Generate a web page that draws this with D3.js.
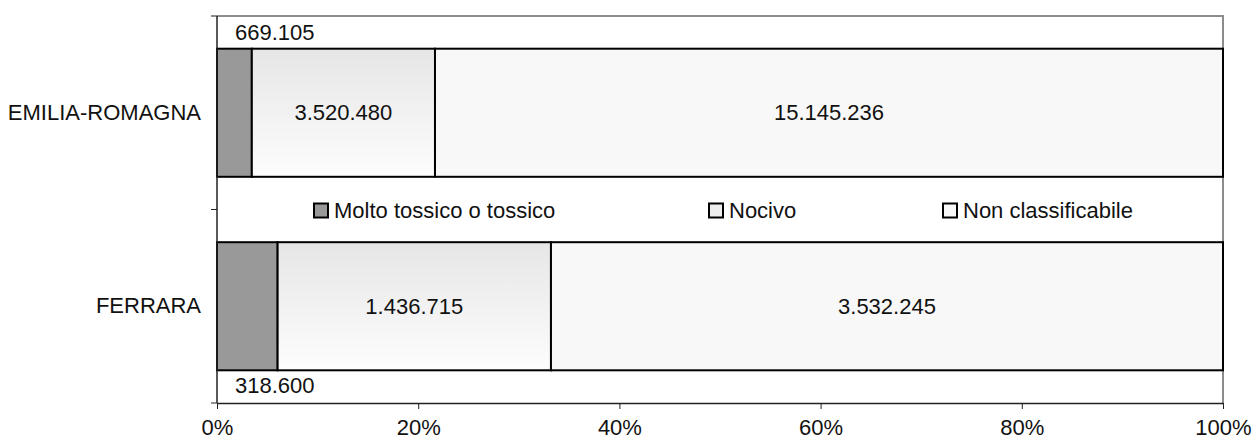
<!DOCTYPE html>
<html>
<head>
<meta charset="utf-8">
<script src="https://cdn.jsdelivr.net/npm/d3@7"></script>
<style>
  html, body { margin: 0; padding: 0; background: #fff; }
  svg { display: block; font-family: Arial, "Liberation Sans", sans-serif; }
</style>
</head>
<body>
<svg id="chart" width="1252" height="441"></svg>
<script>
const categories = ["EMILIA-ROMAGNA", "FERRARA"];
const seriesNames = ["Molto tossico o tossico", "Nocivo", "Non classificabile"];
const molto = [669105, 318600];
const nocivo = [3520480, 1436715];
const nonClass = [15145236, 3532245];
const tickValues = [0, 0.2, 0.4, 0.6, 0.8, 1.0];
const tickLabels = ["0%", "20%", "40%", "60%", "80%", "100%"];

(function () {
const fmt = v => d3.format(",")(v).replace(/,/g, ".");
const FONT = "Arial, 'Liberation Sans', sans-serif";
const FS = 22;

const svg = d3.select("#chart");
const pL = 217, pR = 1223, pT = 16, pB = 403;

const defs = svg.append("defs");
const grad = defs.append("linearGradient").attr("id", "gNoc")
  .attr("x1", 0).attr("y1", 0).attr("x2", 0).attr("y2", 1);
grad.append("stop").attr("offset", "0%").attr("stop-color", "#e6e6e6");
grad.append("stop").attr("offset", "100%").attr("stop-color", "#fdfdfd");

const fills = ["#999999", "url(#gNoc)", "#f8f8f8"];
const legendFills = ["#999999", "#eeeeee", "#f8f8f8"];

const x = d3.scaleLinear().domain([0, 1]).range([pL, pR]);
const y = d3.scaleBand().domain(categories).range([pT, pB])
  .paddingInner(0.338).paddingOuter(0.169);

svg.append("path")
  .attr("d", `M${pL},${pT}H${pR}V${pB}`)
  .attr("fill", "none").attr("stroke", "#8c8c8c").attr("stroke-width", 2);

const rows = categories.map((c, i) => {
  const vals = [molto[i], nocivo[i], nonClass[i]];
  const total = d3.sum(vals);
  let acc = 0;
  return vals.map((v, k) => {
    const s = { cat: c, k, v, x0: acc / total, x1: (acc + v) / total, row: i };
    acc += v;
    return s;
  });
}).flat();

svg.append("g").selectAll("rect").data(rows).join("rect")
  .attr("x", d => x(d.x0))
  .attr("y", d => y(d.cat))
  .attr("width", d => x(d.x1) - x(d.x0))
  .attr("height", y.bandwidth())
  .attr("fill", d => fills[d.k])
  .attr("stroke", "#000").attr("stroke-width", 2);

svg.append("g").selectAll("text").data(rows).join("text")
  .attr("x", d => d.k === 0 ? x(d.x0) + 18 : (x(d.x0) + x(d.x1)) / 2)
  .attr("y", d => {
    if (d.k !== 0) return y(d.cat) + y.bandwidth() / 2;
    return d.row === 0 ? y(d.cat) - 16 : y(d.cat) + y.bandwidth() + 15;
  })
  .attr("text-anchor", d => d.k === 0 ? "start" : "middle")
  .attr("dominant-baseline", "central")
  .attr("font-size", FS).attr("fill", "#111")
  .text(d => fmt(d.v));

const yAxis = d3.axisLeft(y).tickSize(0).tickPadding(16);
const yg = svg.append("g").attr("transform", `translate(${pL},0)`).call(yAxis);
yg.select(".domain").remove();
yg.selectAll("text").attr("font-size", FS).attr("fill", "#111").attr("font-family", FONT);
const yTicks = [pT, (pT + pB) / 2, pB];
svg.append("line").attr("x1", pL).attr("x2", pL).attr("y1", pT).attr("y2", pB)
  .attr("stroke", "#222").attr("stroke-width", 1.5);
svg.append("g").selectAll("line").data(yTicks).join("line")
  .attr("x1", pL - 6).attr("x2", pL).attr("y1", d => d).attr("y2", d => d)
  .attr("stroke", "#222").attr("stroke-width", 1);

const xAxis = d3.axisBottom(x).tickValues(tickValues)
  .tickFormat((d, i) => tickLabels[i]).tickSize(6).tickSizeOuter(0);
const xg = svg.append("g").attr("transform", `translate(0,${pB})`).call(xAxis);
xg.select(".domain").attr("stroke", "#222").attr("stroke-width", 1.5);
xg.selectAll(".tick line").attr("stroke", "#222");
xg.selectAll("text").attr("font-size", FS).attr("fill", "#111").attr("font-family", FONT)
  .attr("y", 32).attr("dy", 0);

const legendX = [313, 708, 942];
const ly = (pT + pB) / 2 + 1;
const lg = svg.append("g").selectAll("g").data(seriesNames).join("g")
  .attr("transform", (d, i) => `translate(${legendX[i]},${ly})`);
lg.append("rect").attr("x", 1).attr("y", -7).attr("width", 14).attr("height", 14)
  .attr("fill", (d, i) => legendFills[i]).attr("stroke", "#000").attr("stroke-width", 2);
lg.append("text").attr("x", 21).attr("y", 0).attr("dominant-baseline", "central")
  .attr("font-size", FS).attr("fill", "#111").text(d => d);
})();
</script>
</body>
</html>
